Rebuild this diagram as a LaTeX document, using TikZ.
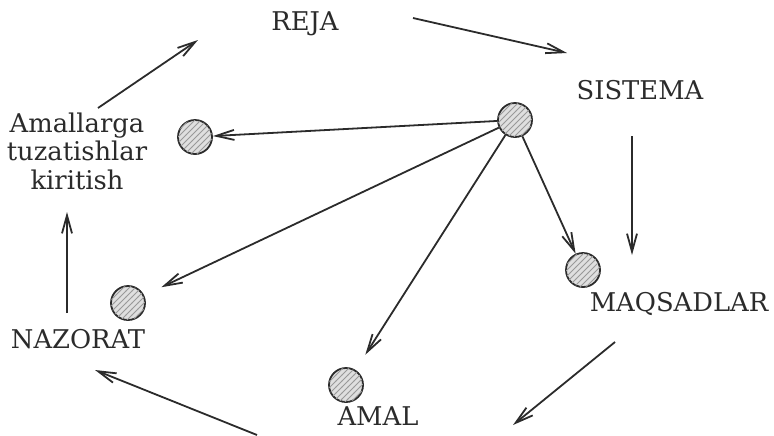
\documentclass[tikz,border=0pt]{standalone}
\usepackage{tikz}
\usepackage{fontspec}
\setmainfont{DejaVu Serif}
\usetikzlibrary{arrows.meta,positioning,calc,patterns}
\definecolor{inkcol}{HTML}{2B2B2B}

\begin{document}
\begin{tikzpicture}[x=0.5pt,y=-0.5pt,
  lbl/.style={inner sep=0pt,text=inkcol,font=\fontsize{12.9}{14.3}\selectfont},
  dot/.style={circle,draw=inkcol,line width=0.9pt,minimum size=17pt,inner sep=0pt,
    fill=gray!25,postaction={pattern=north east lines,pattern color=gray!80}},
  arr/.style={draw=inkcol,line width=0.9pt,-{Straight Barb[length=9pt,width=5pt]}}]
  \useasboundingbox (0,0) rectangle (774,435);
  % labels of the cycle
  \node[lbl] (reja) at (305,24) {REJA};
  \node[lbl] (sistema) at (640,90) {SISTEMA};
  \node[lbl] (maqsad) at (679,304) {MAQSADLAR};
  \node[lbl] (amal) at (378,416) {AMAL};
  \node[lbl] (nazorat) at (78,339) {NAZORAT};
  \node[lbl,align=center] (tuzat) at (77,151) {Amallarga\\tuzatishlar\\kiritish};
  % hatched dots
  \node[dot] (c0) at (515,120) {};
  \node[dot] (cL) at (195,137) {};
  \node[dot] (cM) at (583,270) {};
  \node[dot] (cA) at (346,385) {};
  \node[dot] (cN) at (128,303) {};
  % outer cycle
  \draw[arr] ($(tuzat)+(21,-43)$) -- ($(reja)+(-107,16)$);
  \draw[arr] ($(reja)+(108,-6)$) -- ($(sistema)+(-73,-37)$);
  \draw[arr] ($(sistema)+(-8,46)$) -- ($(maqsad)+(-47,-49)$);
  \draw[arr] ($(maqsad)+(-64,38)$) -- ($(amal)+(135,9)$);
  \draw[arr] ($(amal)+(-121,19)$) -- ($(nazorat)+(17,31)$);
  \draw[arr] ($(nazorat)+(-11,-26)$) -- ($(tuzat)+(-10,61)$);
  % spokes from the centre dot
  \draw[arr] (c0) -- (cL);
  \draw[arr,shorten >=9.5pt] (c0) -- (cN);
  \draw[arr] (c0) -- (cM);
  \draw[arr,shorten >=9pt] (c0) -- (cA);
\end{tikzpicture}
\end{document}
